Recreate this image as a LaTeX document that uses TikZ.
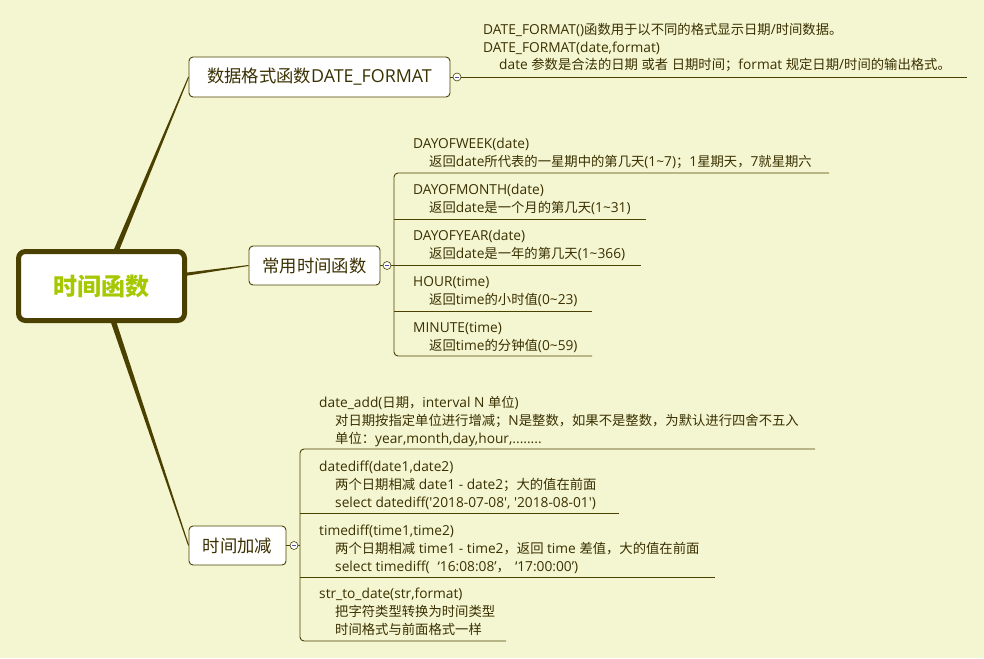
\documentclass[tikz,border=0pt]{standalone}
\usepackage{fontspec}
\setmainfont{Open Sans}[Ligatures=TeXOff,Scale=1.03]
\newfontfamily\cjkfont{Noto Sans CJK SC}[Ligatures=TeXOff]
\newXeTeXintercharclass\cjkclass
\newcount\cjkc
\cjkc=0
\loop \XeTeXcharclass\cjkc=0 \advance\cjkc by 1 \ifnum\cjkc<"10000 \repeat
\cjkc="4E00
\loop \XeTeXcharclass\cjkc=\cjkclass \advance\cjkc by 1 \ifnum\cjkc<"A000 \repeat
\cjkc="3000
\loop \XeTeXcharclass\cjkc=\cjkclass \advance\cjkc by 1 \ifnum\cjkc<"3040 \repeat
\cjkc="FF00
\loop \XeTeXcharclass\cjkc=\cjkclass \advance\cjkc by 1 \ifnum\cjkc<"FFF0 \repeat
\XeTeXinterchartoks 0 \cjkclass = {\begingroup\cjkfont}
\XeTeXinterchartoks 4095 \cjkclass = {\begingroup\cjkfont}
\XeTeXinterchartoks \cjkclass 0 = {\endgroup}
\XeTeXinterchartoks \cjkclass 4095 = {\endgroup}
\XeTeXinterchartokenstate=1
\usetikzlibrary{calc,backgrounds}
\definecolor{bgc}{HTML}{F4F6D2}
\definecolor{lnc}{HTML}{4A4000}
\definecolor{txc}{HTML}{3A3000}
\definecolor{ctc}{HTML}{A6C800}
\begin{document}
\begin{tikzpicture}[x=1pt,y=-1pt,
  box/.style={draw=lnc, fill=white, line width=0.9pt, rounded corners=4pt, inner sep=0pt, text=txc, font=\fontsize{17.33}{20}\selectfont},
  root/.style={draw=lnc, fill=white, line width=5pt, rounded corners=7pt, inner sep=0pt, minimum width=166pt, minimum height=69pt, text=ctc, font=\fontsize{24}{28}\selectfont\bfseries},
  tog/.style={circle, draw=lnc, fill=white, line width=0.6pt, minimum size=8pt, inner sep=0pt,
    path picture={\draw[line width=0.5pt, draw=blue!40!gray] ([xshift=-2pt]path picture bounding box.center) -- ([xshift=2pt]path picture bounding box.center);}},
  lt/.style={anchor=base west, inner sep=0pt, text=txc, font=\fontsize{13.33}{18}\selectfont},
  br/.style={draw=lnc, line width=0.9pt},
]
\useasboundingbox (0,0) rectangle (984,658);
% main nodes
\node[root] (R) at (101.5,286) {时间函数};
\node[box, minimum width=261pt, minimum height=40pt] (B1) at (319.5,77) {数据格式函数DATE\_FORMAT};
\node[box, minimum width=131pt, minimum height=39pt] (B2) at (314.5,265.5) {常用时间函数};
\node[box, minimum width=97pt, minimum height=39pt] (B3) at (237.5,545.5) {时间加减};

\begin{pgfonlayer}{background}
\fill[bgc] (0,0) rectangle (984,658);
\foreach \b in {B1,B2,B3}
  \fill[lnc] ($(R.center)!3pt!90:(\b.west)$) -- ($(\b.west)!0.5pt!-90:(R.center)$)
     -- ($(\b.west)!0.5pt!90:(R.center)$) -- ($(R.center)!3pt!-90:(\b.west)$) -- cycle;
\end{pgfonlayer}

% toggles
\node[tog] (T1) at (457,77) {};
\node[tog] (T2) at (387,265.5) {};
\node[tog] (T3) at (294,545.5) {};
\draw[br] (B1.east) -- (T1.west);
\draw[br] (B2.east) -- (T2.west);
\draw[br] (B3.east) -- (T3.west);

% branch 1 leaf
\coordinate (U1) at (967,77);
\draw[br] (T1.east) -- (U1);
\node[lt] (A1) at (483,35) {DATE\_FORMAT()函数用于以不同的格式显示日期/时间数据。};
\node[lt] (A2) at (483,52.5) {DATE\_FORMAT(date,format)};
\node[lt] (A3) at (499,70) {date 参数是合法的日期 或者 日期时间；format 规定日期/时间的输出格式。};

% branch 2 leaves
\coordinate (V2) at (394,0);
\coordinate (P1) at (829,173);
\coordinate (P2) at (646,219);
\coordinate (P3) at (641,265.5);
\coordinate (P4) at (592,311);
\coordinate (P5) at (592,356);
\draw[br, rounded corners=4pt] (P1) -- (P1 -| V2) -- (P5 -| V2) -- (P5);
\draw[br] (P2 -| V2) -- (P2);
\draw[br] (T2.east) -- (P3);
\draw[br] (P4 -| V2) -- (P4);
\node[lt] (D1a) at (413,148) {DAYOFWEEK(date)};
\node[lt] (D1b) at (429,166) {返回date所代表的一星期中的第几天(1\textasciitilde7)；1星期天，7就星期六};
\node[lt] (D2a) at (413,194) {DAYOFMONTH(date)};
\node[lt] (D2b) at (429,212) {返回date是一个月的第几天(1\textasciitilde31)};
\node[lt] (D3a) at (413,240) {DAYOFYEAR(date)};
\node[lt] (D3b) at (429,258) {返回date是一年的第几天(1\textasciitilde366)};
\node[lt] (D4a) at (413,286) {HOUR(time)};
\node[lt] (D4b) at (429,304) {返回time的小时值(0\textasciitilde23)};
\node[lt] (D5a) at (413,332) {MINUTE(time)};
\node[lt] (D5b) at (429,350) {返回time的分钟值(0\textasciitilde59)};

% branch 3 leaves
\coordinate (V3) at (300,0);
\coordinate (Q1) at (815,449);
\coordinate (Q2) at (619,513);
\coordinate (Q3) at (715,577);
\coordinate (Q4) at (506,641);
\draw[br, rounded corners=4pt] (Q1) -- (Q1 -| V3) -- (Q4 -| V3) -- (Q4);
\draw[br] (Q2 -| V3) -- (Q2);
\draw[br] (Q3 -| V3) -- (Q3);
\draw[br] (T3.east) -- (T3.east -| V3);
\node[lt] (E1a) at (319,407) {date\_add(日期，interval N 单位)};
\node[lt] (E1b) at (335,425) {对日期按指定单位进行增减；N是整数，如果不是整数，为默认进行四舍不五入};
\node[lt] (E1c) at (335,443) {单位：year,month,day,hour,........};
\node[lt] (E2a) at (319,471) {datediff(date1,date2)};
\node[lt] (E2b) at (335,489) {两个日期相减 date1 - date2；大的值在前面};
\node[lt] (E2c) at (335,507) {select datediff('2018-07-08', '2018-08-01')};
\node[lt] (E3a) at (319,535) {timediff(time1,time2)};
\node[lt] (E3b) at (335,553) {两个日期相减 time1 - time2，返回 time 差值，大的值在前面};
\node[lt] (E3c) at (335,571) {select timediff(\hspace{8pt}‘16:08:08’，\hspace{5pt}‘17:00:00’)};
\node[lt] (E4a) at (319,598) {str\_to\_date(str,format)};
\node[lt] (E4b) at (335,616) {把字符类型转换为时间类型};
\node[lt] (E4c) at (335,634) {时间格式与前面格式一样};
\end{tikzpicture}
\end{document}
